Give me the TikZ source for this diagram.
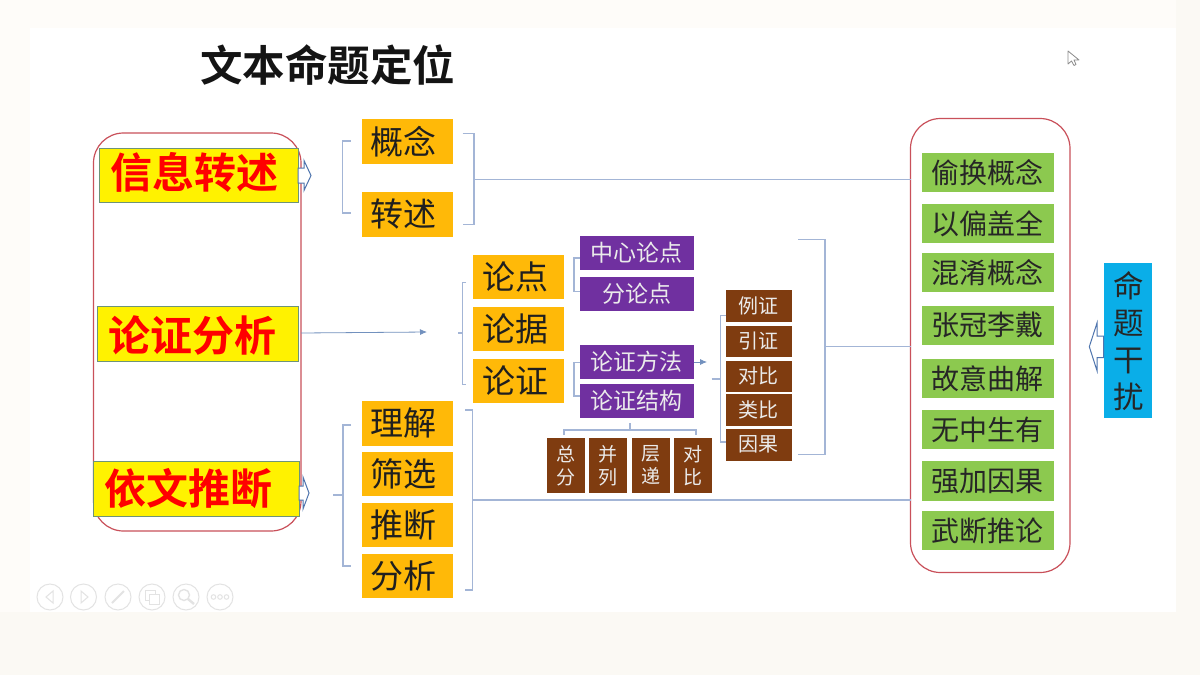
\documentclass[tikz,border=0pt]{standalone}
\usepackage{fontspec}
\setmainfont{Noto Sans CJK SC}
\newfontfamily\cjkb{Noto Sans CJK SC Bold}
\usetikzlibrary{arrows.meta}
\definecolor{bgcream}{HTML}{FBF9F4}
\definecolor{bglight}{HTML}{FEFCF9}
\definecolor{redline}{HTML}{C9505A}
\definecolor{linkblue}{HTML}{A3B5D6}
\definecolor{arrowblue}{HTML}{4F75AE}
\definecolor{orangebox}{HTML}{FFB908}
\definecolor{purplebox}{HTML}{7030A0}
\definecolor{brownbox}{HTML}{7F3C10}
\definecolor{greenbox}{HTML}{8CC94F}
\definecolor{bluebox}{HTML}{0AAEE8}
\definecolor{greenedge}{HTML}{6E9478}
\definecolor{icongrey}{HTML}{E3E3E3}
\tikzset{
 base/.style={anchor=north west,inner sep=0pt,outer sep=0pt,align=center},
 yellowbox/.style={base,fill=yellow,draw=greenedge,line width=1pt,text=red},
 orbox/.style={base,fill=orangebox,text=black!88},
 pubox/.style={base,fill=purplebox,text=white!92!black},
 brbox/.style={base,fill=brownbox,text=white!92!black},
 grbox/.style={base,fill=greenbox,text=black!85},
 blbox/.style={base,fill=bluebox,text=black!85},
 frame/.style={base,draw=redline,line width=1.2pt,rounded corners=30pt,fill=white},
 link/.style={draw=linkblue,line width=1.1pt},
 brace/.style={draw=linkblue,line width=1.1pt},
 flow/.style={draw=arrowblue!80,line width=.8pt,-{Latex[length=7pt,width=6pt]}},
 hollow/.style={draw=arrowblue,line width=1pt,fill=white,line join=miter},
 icon/.style={draw=icongrey,line width=1pt,circle,minimum size=26pt,inner sep=0pt},
 glyph/.style={draw=icongrey,line width=1pt},
}
% name x0 y0 x1 y1 style fontsize text
\newcommand{\bx}[8]{\pgfmathsetlengthmacro{\bw}{#4-#2}\pgfmathsetlengthmacro{\bh}{#5-#3}%
 \node[#6,minimum width=\bw,minimum height=\bh,font=\fontsize{#7}{#7}\selectfont] (#1) at (#2,#3) {#8};}
\newcommand{\ol}[1]{\hspace*{-7pt}#1}
\begin{document}
\begin{tikzpicture}[x=1pt,y=-1pt]
\useasboundingbox (0,0) rectangle (1200,675);
\fill[bgcream] (0,0) rectangle (1200,675);
\fill[bglight] (0,0) rectangle (1176,28);
\fill[bglight] (0,0) rectangle (30,612);
\fill[white] (30,28) rectangle (1176,612);
% frames
\bx{leftframe}{93.5}{133}{301}{531}{frame}{10}{}
\bx{rightframe}{910.5}{118.5}{1070}{572.5}{frame}{10}{}
% title
\node[base,anchor=center,font=\fontsize{42.5}{42.5}\selectfont\cjkb,text=black!92] (title) at (327.5,65) {文本命题定位};
% yellow
\bx{xinxi}{99.5}{148}{298}{202}{yellowbox}{42}{\hspace*{-9pt}\raisebox{3pt}[\height][\depth]{\cjkb 信息转述}}
\bx{lunzheng}{97}{306}{298.5}{361}{yellowbox}{42}{\hspace*{-11pt}\raisebox{-2pt}[\height][\depth]{\cjkb 论证分析}}
\bx{yiwen}{93.5}{461}{299}{516}{yellowbox}{42}{\hspace*{-16pt}\cjkb 依文推断}
% orange
\bx{gainian}{361.5}{119}{453}{163.5}{orbox}{33}{\ol{概念}}
\bx{zhuanshu}{361.5}{192}{453}{236.5}{orbox}{33}{\ol{转述}}
\bx{lijie}{361.5}{401}{453}{445.5}{orbox}{33}{\ol{理解}}
\bx{shaixuan}{361.5}{452}{453}{496}{orbox}{33}{\ol{筛选}}
\bx{tuiduan}{361.5}{503}{453}{547}{orbox}{33}{\ol{推断}}
\bx{fenxi}{361.5}{554}{453}{598}{orbox}{33}{\ol{分析}}
\bx{lundian}{473}{255}{564}{299}{orbox}{33}{\ol{论点}}
\bx{lunju}{473}{307}{564}{351}{orbox}{33}{\ol{论据}}
\bx{lunzh}{473}{359}{564}{403}{orbox}{33}{\ol{论证}}
% purple
\bx{zhongxin}{580}{235.7}{693.7}{270}{pubox}{23}{中心论点}
\bx{fenlun}{580}{276.5}{693.7}{310.5}{pubox}{23}{分论点}
\bx{fangfa}{580}{345}{693.7}{379}{pubox}{23}{论证方法}
\bx{jiegou}{580}{384}{693.7}{418}{pubox}{23}{论证结构}
% brown
\bx{lizh}{726}{290.3}{791.7}{322}{brbox}{20}{例证}
\bx{yinzh}{726}{325.5}{791.7}{356.5}{brbox}{20}{引证}
\bx{duibi}{726}{360.5}{791.7}{392}{brbox}{20}{对比}
\bx{leibi}{726}{394}{791.7}{425.5}{brbox}{20}{类比}
\bx{yinguo}{726}{429}{791.7}{460.5}{brbox}{20}{因果}
\bx{zongfen}{547}{437.7}{584.7}{493}{brbox}{19}{总\\[4pt]分}
\bx{binglie}{589}{437.7}{627}{493}{brbox}{19}{并\\[4pt]列}
\bx{cengdi}{631.7}{437.7}{670}{493}{brbox}{19}{层\\[4pt]递}
\bx{duibib}{673.7}{437.7}{711.7}{493}{brbox}{19}{对\\[4pt]比}
% green
\bx{g1}{921.7}{152.7}{1054}{192}{grbox}{28}{偷换概念}
\bx{g2}{921.7}{204}{1054}{243}{grbox}{28}{以偏盖全}
\bx{g3}{921.7}{253}{1054}{292}{grbox}{28}{混淆概念}
\bx{g4}{921.7}{305.5}{1054}{344.5}{grbox}{28}{张冠李戴}
\bx{g5}{921.7}{359}{1054}{397.7}{grbox}{28}{故意曲解}
\bx{g6}{921.7}{410}{1054}{449}{grbox}{28}{无中生有}
\bx{g7}{921.7}{461}{1054}{500.5}{grbox}{28}{强加因果}
\bx{g8}{921.7}{511}{1054}{550}{grbox}{28}{武断推论}
% blue
\node[blbox,minimum width=48pt,minimum height=154.7pt,font=\fontsize{30.5}{37}\selectfont] (mingti) at (1103.7,263.3)
  {\hspace*{2pt}命\\\hspace*{2pt}题\\\hspace*{2pt}干\\\hspace*{2pt}扰};
% hollow arrows
\draw[hollow] (xinxi.east|-0,168) -- (304,168) -- (304,160.5) -- (311,175.5) -- (304,190.5) -- (304,183) -- (xinxi.east|-0,183) -- cycle;
\draw[hollow] (yiwen.east|-0,486) -- (303,486) -- (303,477) -- (309,493) -- (303,509) -- (303,500) -- (yiwen.east|-0,500) -- cycle;
\draw[hollow] (mingti.west|-0,336) -- (1097,336) -- (1097,323) -- (1089.3,346.7) -- (1097,370.7) -- (1097,357.7) -- (mingti.west|-0,357.7) -- cycle;
% brackets: top pair
\coordinate (b1s) at (474,179.5);
\draw[brace] (350.7,141) -- (342.7,141) -- (342.7,213) -- (350.7,213);
\draw[brace] (462.7,133.7) -- (b1s|-0,133.7) -- (b1s|-0,224.7) -- (462.7,224.7);
\draw[link] (b1s) -- (rightframe.west|-b1s);
% bottom group
\coordinate (b2s) at (472.7,500);
\draw[brace] (351,425) -- (343,425) -- (343,566) -- (351,566);
\draw[link] (333,495) -- (343,495);
\draw[brace] (465,410) -- (b2s|-0,410) -- (b2s|-0,590) -- (465,590);
\draw[link] (b2s) -- (rightframe.west|-b2s);
% middle group
\draw[brace] (466,282.7) -- (462.7,282.7) -- (462.7,384.3) -- (466,384.3);
\draw[link] (458,333) -- (462.7,333);
\coordinate (flowend) at (427,332);
\draw[flow] (leftframe.east|-0,333) -- (flowend);
\draw[brace] (zhongxin.west|-0,258) -- (574,258) -- (574,291.7) -- (fenlun.west|-0,291.7);
\draw[brace] (fangfa.west|-0,362.7) -- (574,362.7) -- (574,396) -- (jiegou.west|-0,396);
\coordinate (m1) at (707,362);
\draw[flow] (fangfa.east|-m1) -- (m1);
\draw[brace] (lizh.west|-0,315.7) -- (720.7,315.7) -- (720.7,442) -- (yinguo.west|-0,442);
\draw[link] (711.7,379) -- (720.7,379);
\draw[brace] (564,435) -- (564,430) -- (696,430) -- (696,435);
\draw[link] (630,423) -- (630,430);
\coordinate (b3s) at (825,346.7);
\draw[brace] (798,239.3) -- (825,239.3) -- (825,454.3) -- (798,454.3);
\draw[link] (b3s) -- (rightframe.west|-b3s);
% toolbar icons
\node[icon] (i1) at (50,597) {};
\node[icon] (i2) at (83.5,597) {};
\node[icon] (i3) at (118,597) {};
\node[icon] (i4) at (152,597) {};
\node[icon] (i5) at (186,597) {};
\node[icon] (i6) at (220,597) {};
\draw[glyph] (53,591) -- (46,597) -- (53,603) -- cycle;
\draw[glyph] (81,591) -- (88,597) -- (81,603) -- cycle;
\draw[glyph,line width=2pt] (112,603) -- (124,591);
\draw[glyph] (145,590) rectangle (155,600);
\draw[glyph,fill=white] (149,594) rectangle (159,604);
\draw[glyph,line width=1.4pt] (184,595) circle (5.5pt);
\draw[glyph,line width=2.4pt] (188,599) -- (194,604);
\draw[glyph] (213.5,597) circle (2.3pt) (220,597) circle (2.3pt) (226.5,597) circle (2.3pt);
% cursor
\draw[draw=black!45,fill=white,line width=.8pt,line join=round] (1068,51) -- (1068,64) -- (1071.5,61) -- (1074,65.5) -- (1076,64.5) -- (1074,60) -- (1079,60) -- cycle;
\end{tikzpicture}
\end{document}
